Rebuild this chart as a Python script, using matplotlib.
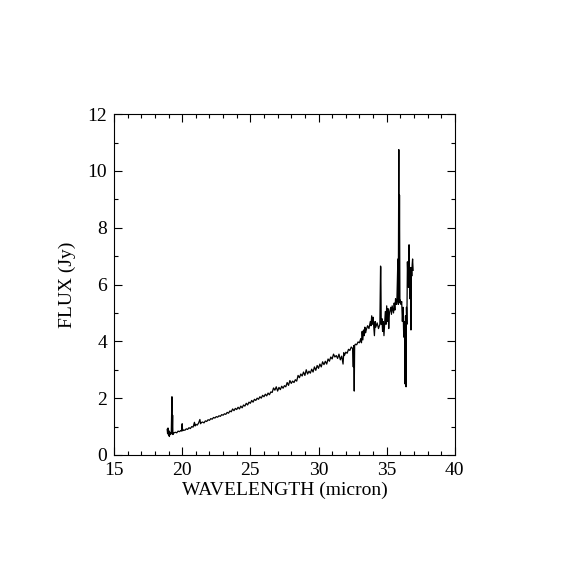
import matplotlib
matplotlib.use("Agg")
import matplotlib.pyplot as plt
from matplotlib.ticker import MultipleLocator

# spectrum (wavelength in micron, flux in Jy)
wavelength = [
    18.90, 18.93, 18.96, 19.00, 19.03, 19.06, 19.10, 19.15, 19.20, 19.25,
    19.27, 19.30, 19.32, 19.40, 19.50, 19.60, 19.70, 19.80, 19.90, 19.95,
    20.00, 20.03, 20.10, 20.20, 20.30, 20.40, 20.50, 20.60, 20.70, 20.80,
    20.90, 20.95, 21.00, 21.10, 21.20, 21.30, 21.35, 21.40, 21.50, 21.60,
    21.70, 21.80, 21.90, 22.00, 22.10, 22.20, 22.30, 22.40, 22.50, 22.60,
    22.70, 22.80, 22.90, 23.00, 23.10, 23.20, 23.30, 23.40, 23.50, 23.60,
    23.70, 23.80, 23.90, 24.00, 24.10, 24.20, 24.30, 24.40, 24.50, 24.60,
    24.70, 24.80, 24.90, 25.00, 25.10, 25.20, 25.30, 25.40, 25.50, 25.60,
    25.70, 25.80, 25.90, 26.00, 26.10, 26.20, 26.30, 26.40, 26.50, 26.60,
    26.70, 26.80, 26.90, 27.00, 27.10, 27.20, 27.30, 27.40, 27.50, 27.60,
    27.70, 27.80, 27.90, 28.00, 28.10, 28.20, 28.30, 28.40, 28.50, 28.60,
    28.70, 28.80, 28.90, 29.00, 29.10, 29.20, 29.30, 29.40, 29.50, 29.60,
    29.70, 29.80, 29.90, 30.00, 30.10, 30.20, 30.30, 30.40, 30.50, 30.60,
    30.70, 30.80, 30.90, 31.00, 31.10, 31.20, 31.30, 31.40, 31.50, 31.60,
    31.70, 31.80, 31.85, 31.90, 32.00, 32.10, 32.20, 32.30, 32.40, 32.50,
    32.55, 32.58, 32.62, 32.65, 32.70, 32.80, 32.90, 33.00, 33.10, 33.15,
    33.20, 33.25, 33.30, 33.35, 33.40, 33.45, 33.50, 33.60, 33.70, 33.80,
    33.85, 33.90, 33.95, 34.00, 34.05, 34.10, 34.15, 34.20, 34.30, 34.40,
    34.50, 34.55, 34.57, 34.60, 34.65, 34.70, 34.75, 34.80, 34.85, 34.90,
    34.95, 35.00, 35.05, 35.10, 35.15, 35.20, 35.30, 35.35, 35.40, 35.50,
    35.55, 35.60, 35.65, 35.70, 35.75, 35.82, 35.85, 35.89, 35.91, 35.94,
    35.97, 36.00, 36.05, 36.10, 36.15, 36.20, 36.25, 36.30, 36.35, 36.38,
    36.42, 36.45, 36.48, 36.52, 36.55, 36.60, 36.64, 36.67, 36.70, 36.73,
    36.76, 36.78, 36.81, 36.84, 36.87, 36.90, 36.94,
]
flux = [
    0.90, 0.75, 0.95, 0.70, 0.85, 0.65, 0.80, 0.72, 0.78, 2.05,
    0.75, 1.40, 0.72, 0.78, 0.80, 0.78, 0.84, 0.82, 0.86, 0.84,
    1.10, 0.85, 0.88, 0.87, 0.92, 0.90, 0.96, 0.93, 1.00, 0.98,
    1.15, 1.02, 1.08, 1.05, 1.12, 1.25, 1.10, 1.14, 1.16, 1.13,
    1.20, 1.18, 1.24, 1.22, 1.28, 1.26, 1.32, 1.30, 1.35, 1.33,
    1.38, 1.36, 1.42, 1.40, 1.45, 1.43, 1.50, 1.47, 1.55, 1.52,
    1.62, 1.56, 1.64, 1.60, 1.68, 1.62, 1.72, 1.66, 1.76, 1.72,
    1.82, 1.76, 1.86, 1.82, 1.92, 1.86, 1.96, 1.92, 2.00, 1.96,
    2.05, 2.00, 2.10, 2.05, 2.14, 2.08, 2.18, 2.12, 2.22, 2.20,
    2.36, 2.28, 2.40, 2.25, 2.38, 2.30, 2.42, 2.35, 2.44, 2.40,
    2.55, 2.45, 2.62, 2.52, 2.60, 2.55, 2.65, 2.60, 2.80, 2.72,
    2.85, 2.78, 2.92, 2.80, 3.00, 2.85, 2.95, 2.88, 3.02, 2.92,
    3.10, 2.98, 3.15, 3.05, 3.20, 3.10, 3.28, 3.18, 3.30, 3.20,
    3.38, 3.30, 3.45, 3.38, 3.55, 3.45, 3.50, 3.40, 3.55, 3.35,
    3.48, 3.20, 3.60, 3.50, 3.62, 3.58, 3.72, 3.68, 3.80, 3.75,
    3.10, 3.85, 2.25, 3.85, 3.90, 3.88, 3.98, 3.95, 4.10, 3.95,
    4.35, 4.05, 4.40, 4.20, 4.50, 4.30, 4.40, 4.55, 4.45, 4.70,
    4.55, 4.90, 4.60, 4.85, 4.50, 4.20, 4.70, 4.50, 4.65, 4.45,
    4.60, 6.65, 6.60, 4.60, 4.80, 4.35, 4.70, 4.20, 4.65, 5.05,
    4.60, 5.25, 4.70, 5.15, 4.45, 5.00, 5.20, 4.95, 5.25, 5.00,
    5.35, 5.10, 5.50, 5.30, 5.45, 6.90, 5.30, 10.75, 5.40, 9.15,
    5.35, 5.45, 5.30, 5.40, 4.70, 5.20, 4.15, 4.70, 2.50, 4.90,
    2.40, 5.20, 4.60, 6.80, 6.30, 5.90, 7.40, 6.50, 5.50, 6.60,
    6.20, 4.40, 6.60, 6.30, 6.70, 6.90, 6.50,
]

plt.rcParams['font.family'] = ['Liberation Serif', 'DejaVu Serif']

fig = plt.figure(figsize=(5.7, 5.7), dpi=100)
ax = fig.add_axes([0.2, 0.2018, 0.598, 0.598])

ax.plot(wavelength, flux, color='black', linewidth=0.9)

ax.set_xlim(15, 40)
ax.set_ylim(0, 12)
ax.xaxis.set_major_locator(MultipleLocator(5))
ax.xaxis.set_minor_locator(MultipleLocator(1))
ax.yaxis.set_major_locator(MultipleLocator(2))
ax.yaxis.set_minor_locator(MultipleLocator(1))
ax.tick_params(which='both', direction='in', top=True, right=True,
               width=0.8, labelsize=14, pad=5)
ax.tick_params(which='major', length=5.5)
ax.tick_params(which='minor', length=3)
for s in ax.spines.values():
    s.set_linewidth(0.8)

ax.set_xlabel('WAVELENGTH (micron)', fontsize=14, labelpad=2)
ax.set_ylabel('FLUX (Jy)', fontsize=14, labelpad=8)

fig.savefig('out.png', dpi=100)
